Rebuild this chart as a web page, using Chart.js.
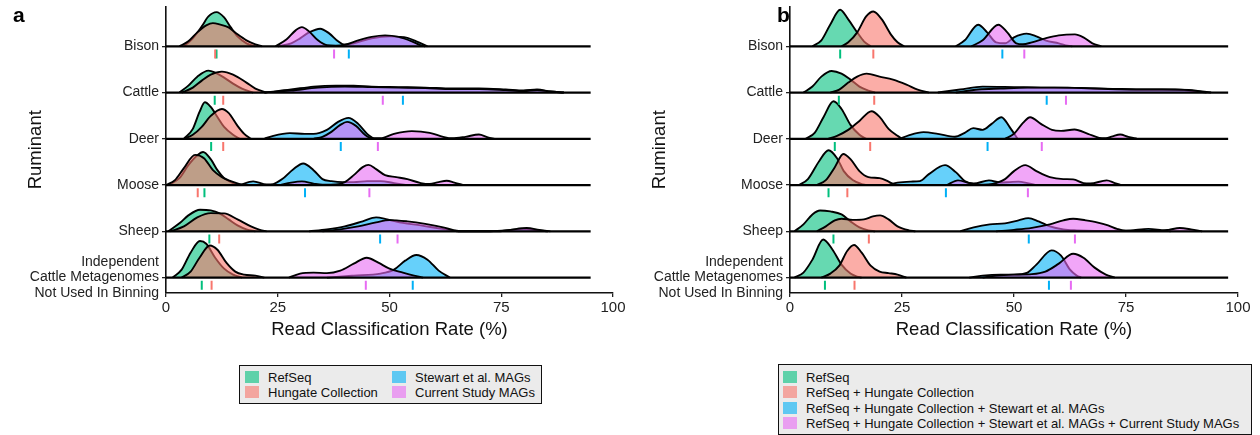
<!DOCTYPE html>
<html>
<head>
<meta charset="utf-8">
<script src="https://cdn.jsdelivr.net/npm/chart.js@4.4.1/dist/chart.umd.min.js"></script>
<style>
  html, body { margin:0; padding:0; background:#fff; }
  body { width:1260px; height:435px; position:relative; overflow:hidden; font-family:'Liberation Sans', Arial, sans-serif; }
  canvas { position:absolute; top:0; }
  #ca { left:0; }
  #cb { left:624px; }
  .plab { position:absolute; top:3px; font-weight:bold; font-size:21px; color:#000; z-index:2; }
  .legend { position:absolute; background:#ebebeb; border:1.5px solid #111; box-sizing:border-box; }
  .li { position:absolute; font-size:13px; color:#111; white-space:nowrap; line-height:15px; }
  .key { position:absolute; width:14px; height:12px; }
</style>
</head>
<body>
<canvas id="ca" width="630" height="345"></canvas>
<canvas id="cb" width="636" height="345"></canvas>
<div class="plab" style="left:13px">a</div>
<div class="plab" style="left:777px">b</div>
<div class="legend" id="lega" style="left:239px; top:365px; width:303px; height:39px;"></div>
<div class="legend" id="legb" style="left:778px; top:364px; width:474px; height:71px;"></div>
<script>
// ---------------- DATA ----------------
const ruminants = ['Bison', 'Cattle', 'Deer', 'Moose', 'Sheep', ['Independent', 'Cattle Metagenomes', 'Not Used In Binning']];
const xTicks = [0, 25, 50, 75, 100];
const seriesA = ['RefSeq', 'Hungate Collection', 'Stewart et al. MAGs', 'Current Study MAGs'];
const seriesB = ['RefSeq', 'RefSeq + Hungate Collection', 'RefSeq + Hungate Collection + Stewart et al. MAGs', 'RefSeq + Hungate Collection + Stewart et al. MAGs + Current Study MAGs'];
const xRangeA = [0, 95];
const xRangeB = [0, 97.8];

// density knots per ruminant: [x, density, x, density, ...] (Bison, Cattle, Deer, Moose, Sheep, Independent)
const aRefSeqDensity = [
  [4,0, 6,8, 8,20, 9.5,30, 11.3,34.3, 13,29, 14.5,19, 16,10, 18,3, 20,0],
  [3,0, 5,7, 7,16, 9.5,22, 11,20, 13,15, 15,9, 17,4, 19.5,0],
  [4,0, 6,10, 7.5,27, 8.7,36.7, 10,32, 11.5,22, 13,12, 15,4, 16.5,0],
  [0.5,0, 3,7, 5,20, 7,30, 8.3,33.3, 10,26, 11.5,15, 13,7, 15,2, 17,0],
  [0.5,0, 3,8, 5,16, 7.6,21.7, 10,21, 12,18, 14,12, 16,6, 18,2, 20,0],
  [1.5,0, 3.5,8, 5.5,25, 7.6,36.7, 9,34, 11,20, 13,9, 15,3, 17,0]
];
const aHungateDensity = [
  [3,0, 5,5, 7,14, 9,21, 10.5,23.3, 12,22, 14,19, 16,12, 18,6, 20,2, 21.5,0],
  [3.5,0, 6,5, 8,12, 10,18, 12.5,21, 15,18, 18,10, 20,4, 22.5,0],
  [4,0, 6,4, 8,12, 10,23, 12.5,30, 14,26, 16,13, 17.5,5, 19,0],
  [0,0, 2,5, 4,17, 6.5,30.3, 8.5,27, 10.5,15, 12.5,8, 14.5,4, 16.5,1, 18,0],
  [1,0, 4,5, 7,14, 10,18.3, 13,18, 16,12, 19,5, 21,1.5, 22.5,0],
  [3.5,0, 5.5,6, 7.5,20, 9.8,32.3, 11.5,28, 13.5,15, 15.5,6, 17.5,3, 20,2, 22,0]
];
const aStewartDensity = [
  [25,0, 28,3, 30,8, 32,14, 34.5,17.7, 36.5,13, 38.5,5, 40,1.5, 42,3, 46,8, 50,10, 54,8.5, 56,5, 58.5,0],
  [22,0, 28,3, 33,6, 38,7, 42,7, 46,6, 52,5.5, 58,5, 64,4, 70,4, 76,3, 80,2, 83,3, 86,1, 89,0],
  [22,0, 24,3, 27.7,5.7, 31,5, 33,5, 36,9, 38.5,17, 40.8,21, 43,15, 45,5, 46.5,0],
  [16.5,0, 19.5,3.7, 22.5,0.5, 24,1, 26,6, 28.5,16, 30.7,21.7, 33,15, 35,6, 37,4, 39.5,3, 42,3, 45,4, 48,4, 51,2, 54,0],
  [32,0, 36,2, 40,5, 44,10, 47,14, 49.5,12, 53,8.5, 57,6, 61,3, 64,1, 65.5,0, 72,0, 76,1, 80,2.5, 83,1, 85.5,0],
  [36,0, 42,2, 48,4, 51,8, 53.5,17, 56,22.7, 58.5,18, 61,7, 63.5,0]
];
const aCurrentDensity = [
  [24.5,0, 27,7, 29,16, 30.4,19.3, 32,15, 34,6, 36,1, 38,0.5, 40,1.5, 43,6, 46,9.5, 49,11, 52,9.5, 55,5, 57,1, 58,0],
  [22,0, 28,2, 34,5, 40,6, 46,5.5, 52,5, 58,4.5, 64,3.5, 70,3.5, 76,2.5, 80,1.5, 83,2.5, 86,1, 89,0],
  [33,0, 35,2, 37,7, 39,14, 40.5,17, 42.5,13, 44.5,4, 46,0.5, 48,0.5, 51,5, 55,7.7, 59,6, 62,2, 64,0.5, 67,2, 70,4.3, 72,1.5, 73.5,0],
  [25.5,0, 28,2.5, 30.4,3.7, 33,1.5, 35,0.3, 38,0.5, 40,3, 42,10, 44,18, 45.3,20.3, 47,16, 49,10, 51.5,8, 54,6, 57,2, 59,1, 61,3, 62.8,4.3, 64.5,2.5, 66.5,0],
  [35,0, 39,2, 43,5, 47,9, 50,11.3, 54,10, 58,7.5, 62,4, 64.5,1, 66,0, 74,0, 77,1.5, 80.7,3.3, 83.5,1.5, 86,0],
  [27.5,0, 30,4, 33,5, 36,4.5, 39,7, 42,14, 44.9,20, 47.5,15, 50,9, 53,5, 55.5,2, 57.5,0]
];
const bRefSeqDensity = [
  [5,0, 7,6, 9,22, 11.2,36.7, 13,27, 15,14, 16.5,5, 18,0],
  [3,0, 5,6, 7,16, 9.3,21.7, 11.5,19, 13.5,13, 15.5,6, 17.5,2, 19,0],
  [3.5,0, 5.5,6, 7.5,22, 9.7,37.7, 11.5,30, 13.5,14, 15.5,4, 17,0],
  [2,0, 4,6, 6.5,24, 8.6,35, 10.5,27, 12,14, 14,5, 16,1, 17,0],
  [1,0, 3,7, 5,17, 6.7,21, 9,20, 11.5,17, 13.5,10, 15.5,4, 17.5,1, 19,0],
  [1,0, 3,5, 5,18, 7.4,38.3, 9.5,28, 11.5,13, 13.5,4, 15,1, 16,0]
];
const bHungateDensity = [
  [11.5,0, 13,4, 15,14, 17,30, 18.6,35, 20.5,27, 22.5,12, 24,4, 25.5,0],
  [9,0, 11,3, 13,10, 15,16, 17.1,19, 20,16, 23,13, 26,8, 28.5,3, 31,0],
  [8.5,0, 10.5,3, 13,9, 15.5,18, 18.2,27.7, 20,22, 22,10, 24,3, 25,0],
  [6,0, 8,5, 10,18, 11.9,31.3, 13.5,26, 15.5,14, 17.5,8, 20,7, 22,3.5, 23.5,0],
  [6,0, 8,5, 10,11, 11.5,12.7, 14,11.5, 16.5,12, 18.5,15, 20.1,16, 22,12, 24,5, 26.5,1, 28,0],
  [7,0, 9,4, 11,12, 12.8,27, 14.3,32.7, 16,25, 18,12, 20,6, 22,4.5, 24,3, 26,0]
];
const bStewartDensity = [
  [37,0, 39,6, 42,21.7, 44,14, 46,4, 48,3, 50,9, 52.8,12.7, 55,10, 57,6, 60,3, 62,0.5, 63,0],
  [33,0, 38,3, 43,6, 50,5.5, 56,5, 62,5, 68,4, 74,3.5, 80,3, 86,3, 90,1.5, 93,0],
  [24.5,0, 26.5,3.5, 29.8,6.7, 33,5, 36.8,2, 39,6, 40.9,10.7, 43,9, 45,15, 47.2,21.7, 49,12, 50.8,0],
  [22,0, 24,2.5, 27,3.5, 29,4, 31,11, 34.6,20, 37,13, 39,4, 41,1.5, 44.4,4.7, 47,2.5, 49,3, 51,3.5, 53,2, 55,0],
  [38,0, 41,4, 44.6,7, 48,8, 51,11, 53.2,13.3, 55.5,10, 58,5, 61,2, 64,1, 68,0.5, 72,0.5, 76,1, 80,2.5, 83,1, 85,0],
  [40,0, 43,2, 47,3, 50,3, 53,5, 55,13, 58.4,27.3, 60.5,22, 62.5,8, 64,2, 65,0]
];
const bCurrentDensity = [
  [40.5,0, 43,6, 46.5,21.7, 48.5,14, 50.5,3, 52,2, 54,4, 57,8, 60,11, 63.6,12, 65.5,9, 67.5,3, 69.5,0],
  [37,0, 42,3, 47,4, 53,5, 59,5, 65,4.5, 71,3.5, 77,3, 83,3, 89,2.5, 92,1, 94,0],
  [48,0, 50,5, 52,16, 53.6,21.7, 56,15, 58.5,9, 60.5,8, 63.5,9.3, 66.5,5, 69,1, 70.5,0.5, 72,2.5, 73.7,4.3, 75.5,2, 77.5,0],
  [35,0, 37.5,4.7, 40,2, 42,0.3, 46,2, 48,6, 50,14, 52.5,20, 55,14, 58,8, 61,6, 63.2,5.7, 65.5,2, 67,1.5, 70.7,4.7, 72.5,2, 74,0],
  [46,0, 50,1.5, 54,3.5, 58,7, 61,11, 63.2,12.7, 66,11, 68.5,9, 71,6, 73,2.5, 75,0.5, 78,0.5, 82,0.5, 84.5,1.5, 87,3.3, 89.5,2, 92,0],
  [43,0, 46,2, 50,3, 54,3.5, 57,6, 60,14, 63.2,24, 65.5,20, 68,10, 70.5,3, 72.5,0]
];

// mean read classification rate (Bison, Cattle, Deer, Moose, Sheep, Independent)
const aRefSeqMean  = [11.3, 10.9, 10.1, 8.6, 9.7, 8.0];
const aHungateMean = [11.0, 12.8, 12.8, 7.1, 11.9, 10.2];
const aStewartMean = [40.9, 53.0, 39.1, 31.1, 47.9, 55.2];
const aCurrentMean = [37.6, 48.5, 47.4, 45.5, 51.8, 44.7];
const bRefSeqMean  = [11.2, 10.9, 10.0, 8.6, 9.7, 7.8];
const bHungateMean = [18.6, 18.8, 17.9, 12.8, 17.6, 14.4];
const bStewartMean = [47.4, 57.3, 44.1, 34.8, 53.3, 57.8];
const bCurrentMean = [52.3, 61.6, 56.2, 53.1, 63.6, 62.7];

// ---------------- STYLE ----------------
const hue  = ['#00BF7D', '#F8766D', '#00B0F6', '#E76BF3'];
const fillC = ['rgba(0,191,125,0.6)', 'rgba(248,118,109,0.6)', 'rgba(0,176,246,0.6)', 'rgba(231,107,243,0.6)'];
const S = 46.5; // density units per ridge step
const FONT = "'Liberation Sans', Arial, sans-serif";
Chart.defaults.font.family = FONT;

function buildDatasets(dens, means, xRange) {
  const ds = [];
  let k = 0;
  const nR = ruminants.length;
  for (let r = 0; r < nR; r++) {
    const base = (nR - 1 - r) * S;
    for (let s = 0; s < dens.length; s++) {
      const arr = dens[s][r];
      const pts = [];
      for (let i = 0; i < arr.length; i += 2) pts.push({x: arr[i], y: base + arr[i + 1]});
      ds.push({
        data: pts, borderColor: '#000', borderWidth: 1.9, backgroundColor: fillC[s],
        fill: {value: base}, pointRadius: 0, cubicInterpolationMode: 'monotone',
        order: -(k++)
      });
    }
    ds.push({
      data: [{x: xRange[0], y: base}, {x: xRange[1], y: base}], borderColor: '#000', borderWidth: 2.2,
      fill: false, pointRadius: 0, order: -(k++)
    });
  }
  for (let s = 0; s < means.length; s++) {
    ds.push({
      data: means[s].map((m, r) => ({x: m, y: (nR - 1 - r) * S - 7.8})),
      showLine: false, pointStyle: 'line', rotation: 90, pointRadius: 4.5,
      borderColor: hue[s], pointBorderColor: hue[s], pointBorderWidth: 2, borderWidth: 2,
      order: -(k++)
    });
  }
  return ds;
}

function makeChart(id, dens, means, xRange, padRight) {
  const nR = ruminants.length;
  new Chart(document.getElementById(id), {
    type: 'line',
    data: {datasets: buildDatasets(dens, means, xRange)},
    options: {
      responsive: false, animation: false, events: [],
      layout: {padding: {left: 0, right: padRight, top: 5, bottom: 0}},
      plugins: {legend: {display: false}, tooltip: {enabled: false}},
      scales: {
        x: {
          type: 'linear', min: 0, max: 100,
          afterBuildTicks: sc => { sc.ticks = xTicks.map(v => ({value: v})); },
          ticks: {font: {size: 15}, color: '#222', padding: 2, autoSkip: false, maxRotation: 0},
          grid: {drawOnChartArea: false, drawTicks: true, tickLength: 4, color: '#222', lineWidth: 1.3},
          border: {display: true, color: '#111', width: 1.6},
          title: {display: true, text: 'Read Classification Rate (%)', font: {size: 18.5}, color: '#111', padding: {top: 0, bottom: 4}},
          afterFit: sc => { sc.height = 52; sc.paddingLeft = 0; sc.paddingRight = 0; }
        },
        y: {
          type: 'linear', min: -15.5, max: (nR - 1) * S + 40,
          afterBuildTicks: sc => { sc.ticks = ruminants.map((_, i) => ({value: i * S})); },
          ticks: {
            autoSkip: false, font: {size: 14, lineHeight: 1.1}, color: '#222', padding: 3,
            callback: v => ruminants[nR - 1 - Math.round(v / S)]
          },
          grid: {drawOnChartArea: false, drawTicks: true, tickLength: 4, color: '#222', lineWidth: 1.3},
          border: {display: true, color: '#111', width: 1.6},
          title: {display: true, text: 'Ruminant', font: {size: 18.5}, color: '#111', padding: {top: 25, bottom: 0}},
          afterFit: sc => { sc.width = 166; sc.paddingTop = 0; sc.paddingBottom = 0; }
        }
      }
    }
  });
}

makeChart('ca', [aRefSeqDensity, aHungateDensity, aStewartDensity, aCurrentDensity],
  [aRefSeqMean, aHungateMean, aStewartMean, aCurrentMean], xRangeA, 17);
makeChart('cb', [bRefSeqDensity, bHungateDensity, bStewartDensity, bCurrentDensity],
  [bRefSeqMean, bHungateMean, bStewartMean, bCurrentMean], xRangeB, 22);

// legends
function addItem(box, text, color, keyL, keyT, textL, textT) {
  const k = document.createElement('div');
  k.className = 'key'; k.style.left = keyL + 'px'; k.style.top = keyT + 'px'; k.style.background = color;
  box.appendChild(k);
  const t = document.createElement('div');
  t.className = 'li'; t.style.left = textL + 'px'; t.style.top = textT + 'px'; t.textContent = text;
  box.appendChild(t);
}
const la = document.getElementById('lega');
seriesA.forEach((n, i) => {
  const col = Math.floor(i / 2), row = i % 2;
  addItem(la, n, fillC[i], 5 + col * 147, 5 + row * 15, 28 + col * 147, 4 + row * 15);
});
const lb = document.getElementById('legb');
seriesB.forEach((n, i) => {
  addItem(lb, n, fillC[i], 4, 6 + i * 15.3, 27, 5 + i * 15.3);
});
</script>
</body>
</html>
